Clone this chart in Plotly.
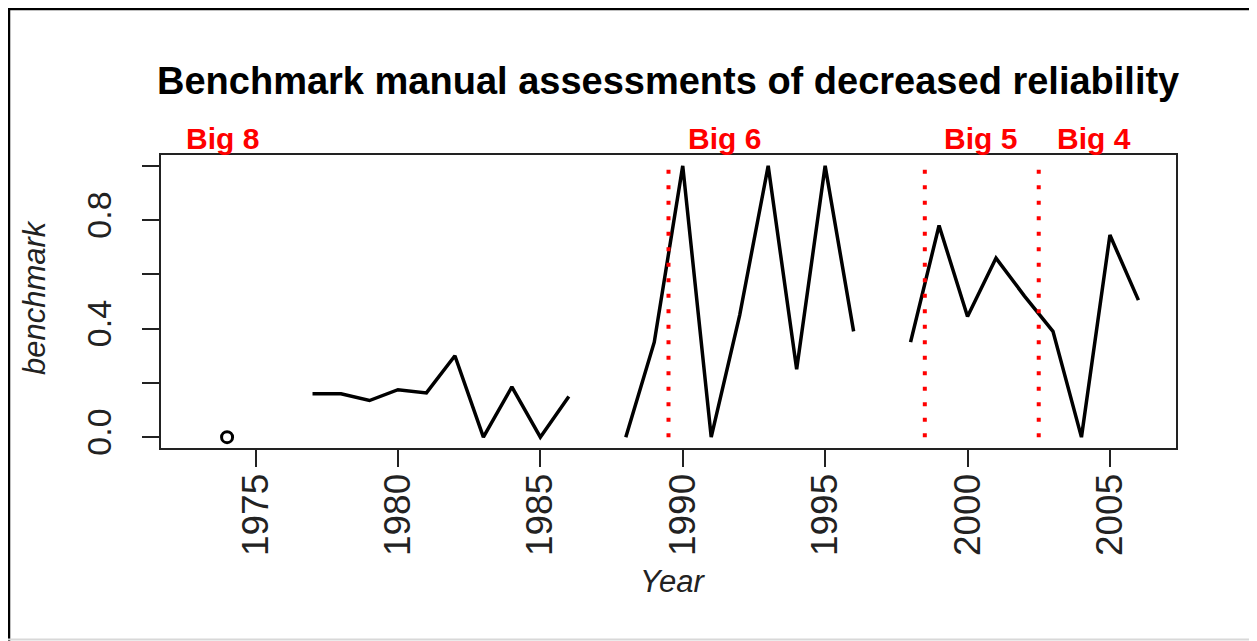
import plotly.graph_objects as go

# ---- data ----
years = list(range(1973, 2007))
benchmark = [None, 0.0, None, None, 0.16, 0.16, 0.135, 0.175, 0.163, 0.30,
             0.0, 0.185, 0.0, 0.15, None, 0.0, 0.35, 1.0, 0.0, 0.45,
             1.0, 0.25, 1.0, 0.39, None, 0.35, 0.78, 0.445, 0.66, 0.52,
             0.39, 0.0, 0.745, 0.505]
era_breaks = [1989.5, 1998.5, 2002.5]
era_labels = ["Big 8", "Big 6", "Big 5", "Big 4"]
era_label_x = [1973.85, 1991.45, 2000.45, 2004.45]
x_ticks = [1975, 1980, 1985, 1990, 1995, 2000, 2005]
y_ticks = [0.0, 0.2, 0.4, 0.6, 0.8, 1.0]
y_ticktext = ["0.0", "", "0.4", "", "0.8", ""]

FONT = "Arial, 'Liberation Sans', sans-serif"
OFF = 8                      # page body margin of the written html
W, H = 1257 - OFF, 641 - OFF
# plot area in page pixels: x 161..1176, y 155..448
L, R, T, B = 161 - OFF, 1257 - 1176, 155 - OFF, 641 - 448
pw, ph = W - L - R, H - T - B

def px_x(px):               # page px -> paper
    return (px - OFF - L) / pw

def px_y(py):
    return (H - B - (py - OFF)) / ph

fig = go.Figure()

fig.add_trace(go.Scatter(x=years, y=benchmark, mode="lines",
                         line=dict(color="black", width=3.5),
                         connectgaps=False, showlegend=False, hoverinfo="x+y"))

# isolated points (no neighbours) drawn as open circles, like R
iso_x, iso_y = [], []
for i, v in enumerate(benchmark):
    if v is None:
        continue
    prev_none = i == 0 or benchmark[i - 1] is None
    next_none = i == len(benchmark) - 1 or benchmark[i + 1] is None
    if prev_none and next_none:
        iso_x.append(years[i]); iso_y.append(v)
fig.add_trace(go.Scatter(x=iso_x, y=iso_y, mode="markers",
                         marker=dict(symbol="circle-open", size=11, color="black",
                                     line=dict(width=3, color="black")),
                         showlegend=False))

for xb in era_breaks:
    fig.add_trace(go.Scatter(x=[xb, xb], y=[0, 1], mode="lines",
                             line=dict(color="#ff0000", width=4, dash="4px,11.5px"),
                             showlegend=False, hoverinfo="skip"))

annotations = []
for lab, lx in zip(era_labels, era_label_x):
    annotations.append(dict(x=lx, y=px_y(138), xref="x", yref="paper", text="<b>%s</b>" % lab,
                            showarrow=False, xanchor="center", yanchor="middle",
                            font=dict(family=FONT, size=30, color="#ff0000")))
annotations.append(dict(x=px_x(667.5), y=px_y(81), xref="paper", yref="paper",
                        text="<b>Benchmark manual assessments of decreased reliability</b>",
                        showarrow=False, xanchor="center", yanchor="middle",
                        font=dict(family=FONT, size=38, color="black")))
annotations.append(dict(x=px_x(672), y=px_y(581), xref="paper", yref="paper",
                        text="<i>Year</i>", showarrow=False, xanchor="center", yanchor="middle",
                        font=dict(family=FONT, size=31, color="#222")))
annotations.append(dict(x=px_x(34), y=px_y(297), xref="paper", yref="paper",
                        text="<i>benchmark</i>", showarrow=False, textangle=-90,
                        xanchor="center", yanchor="middle",
                        font=dict(family=FONT, size=31, color="#222")))

shapes = [
    dict(type="line", xref="paper", yref="paper", x0=px_x(9), x1=px_x(9), y0=px_y(OFF), y1=px_y(641),
         line=dict(color="black", width=2.5)),
    dict(type="line", xref="paper", yref="paper", x0=px_x(OFF), x1=px_x(1254), y0=px_y(9), y1=px_y(9),
         line=dict(color="black", width=2.5)),
    dict(type="line", xref="paper", yref="paper", x0=px_x(1253), x1=px_x(1253), y0=px_y(OFF), y1=px_y(641),
         line=dict(color="black", width=2.5)),
    dict(type="line", xref="paper", yref="paper", x0=px_x(OFF), x1=px_x(1257), y0=px_y(639.5), y1=px_y(639.5),
         line=dict(color="#d8d8d8", width=2)),
]

fig.update_layout(
    width=W, height=H,
    margin=dict(l=L, r=R, t=T, b=B, pad=0),
    paper_bgcolor="white", plot_bgcolor="white",
    annotations=annotations, shapes=shapes,
    showlegend=False,
    xaxis=dict(range=[1971.68, 2007.32], tickvals=x_ticks, ticktext=[str(t) for t in x_ticks],
               tickangle=-90, ticks="outside", ticklen=17, tickwidth=2, tickcolor="#222",
               showline=True, linewidth=2, linecolor="#222", mirror=True,
               showgrid=False, zeroline=False, ticklabelstandoff=-8,
               tickfont=dict(family=FONT, size=37, color="#222")),
    yaxis=dict(range=[-0.04, 1.04], tickvals=y_ticks, ticktext=y_ticktext,
               tickangle=-90, ticks="outside", ticklen=17, tickwidth=2, tickcolor="#222",
               showline=True, linewidth=2, linecolor="#222", mirror=True,
               showgrid=False, zeroline=False, ticklabelstandoff=17,
               tickfont=dict(family=FONT, size=34, color="#222")),
)

fig.write_html("out.html")
